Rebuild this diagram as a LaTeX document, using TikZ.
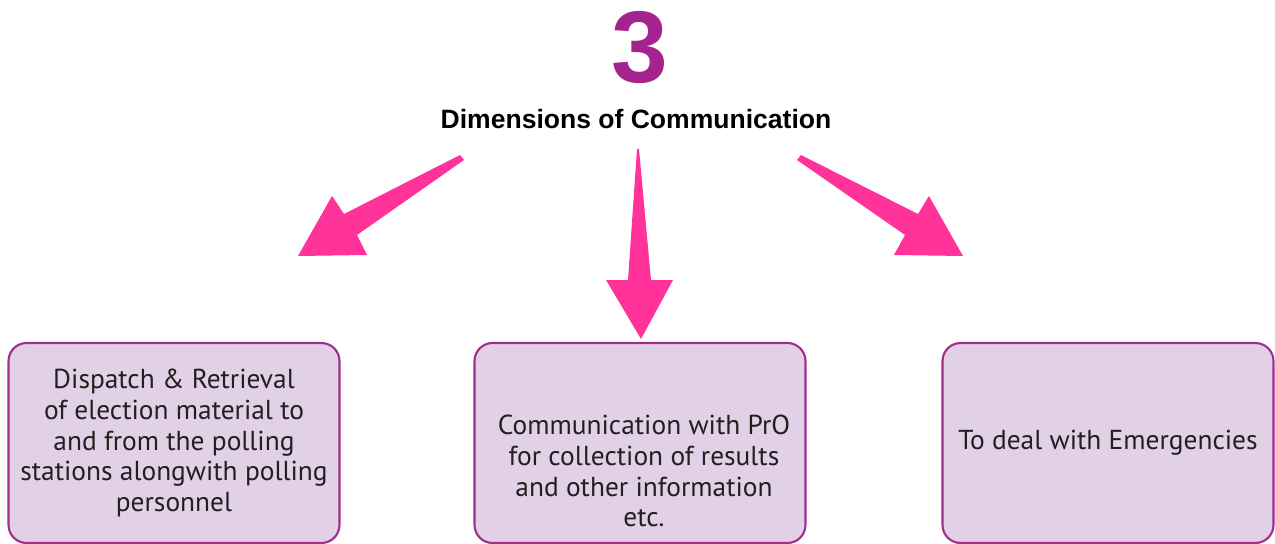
\documentclass[tikz,border=0pt]{standalone}
\usepackage{fontspec}
\setmainfont{PT Sans}
\newfontfamily\headfont{Liberation Sans}
\usetikzlibrary{positioning}

\definecolor{plum}{HTML}{A4238E}
\definecolor{hotpink}{HTML}{FF3399}
\definecolor{lilac}{HTML}{E2D0E6}
\definecolor{frame}{HTML}{A12D8C}
\definecolor{ink}{HTML}{231F20}

\tikzset{
  panel/.style={draw=frame, line width=1.2pt, fill=lilac, rounded corners=0.36cm,
    minimum width=6.62cm, minimum height=4.0cm, inner sep=0pt},
  paneltext/.style={text=ink, align=center, font=\fontsize{15.6}{17.6}\selectfont},
  bigarrow/.style={fill=hotpink, draw=none}
}

\begin{document}
\begin{tikzpicture}[x=0.02cm, y=-0.02cm]
        \useasboundingbox (0,0) rectangle (1275,544);
        % heading
        \node [text=plum, font=\headfont\bfseries\fontsize{58}{58}\selectfont] (Num) at (640,47) {3};
        \node [font=\headfont\bfseries\fontsize{15.1}{17}\selectfont, below=0.27cm of Num, xshift=-0.08cm] (Title) {Dimensions of Communication};
        % the three boxes
        \node [panel, paneltext] (Dispatch) at (174,443) {Dispatch \& Retrieval\\of election material to\\and from the polling\\stations alongwith polling\\personnel};
        \node [panel] (PrO) at (640,443) {};
        \node [paneltext] (PrOText) at (644,471) {Communication with PrO\\for collection of results\\and other information\\etc.};
        \node [panel, paneltext] (Emergency) at (1108,443) {To deal with Emergencies};
        % block arrows from the heading
        \fill [bigarrow] (460,155) -- (464,160) -- (357,235) -- (367,255) -- (298,256) -- (332,196) -- (344,214) -- cycle;
        \fill [bigarrow] (637,149) -- (639,149) -- (651,280) -- (673,280) -- (641,339) -- (606,280) -- (628,280) -- cycle;
        \fill [bigarrow] (801,155) -- (797,160) -- (905,235) -- (894,255) -- (963,256) -- (929,196) -- (918,214) -- cycle;
    \end{tikzpicture}
\end{document}
